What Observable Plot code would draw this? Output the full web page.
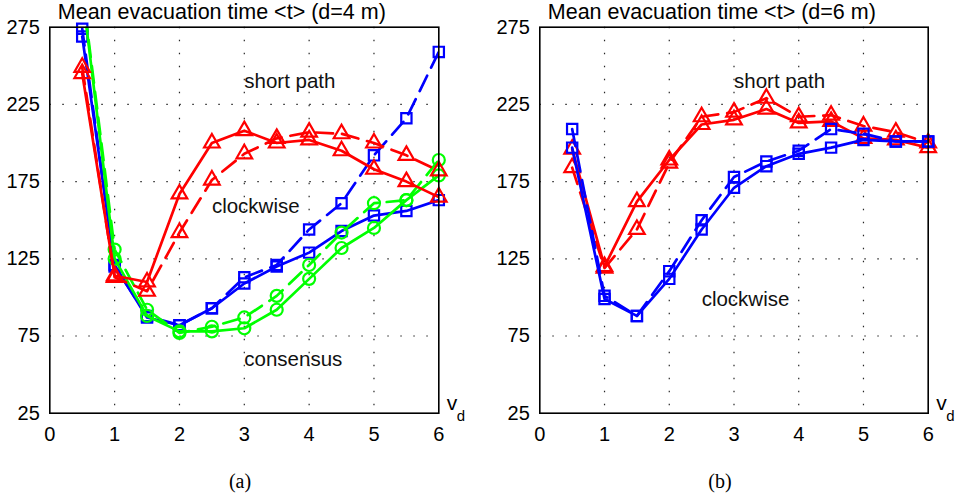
<!DOCTYPE html>
<html><head><meta charset="utf-8">
<script src="https://cdn.jsdelivr.net/npm/d3@7"></script>
<script src="https://cdn.jsdelivr.net/npm/@observablehq/plot@0.6"></script>
<style>
body{margin:0;background:#fff;width:960px;height:497px;overflow:hidden}
#row{display:flex}
.panel{width:480px}
.cap{font-family:"Liberation Serif","DejaVu Serif",serif;font-size:20px;text-align:center;line-height:20px;padding-top:16px;color:#000}
</style></head><body><div id="row"></div>
<script>
// x values (v_d)
const vd = [0.5, 1, 1.5, 2, 2.5, 3, 3.5, 4, 4.5, 5, 5.5, 6];
const xTicks = [0, 1, 2, 3, 4, 5, 6];
const yTicks = [25, 75, 125, 175, 225, 275];
const gridXVals = [1, 2, 3, 4, 5];
const gridYVals = [75, 125, 175, 225];

// panel (a): d = 4 m
const aShortSolid  = [245, 114, 110, 167, 200, 208, 200, 202, 195, 183, 175, 165];
const aShortDashed = [249, 113, 104, 142, 176, 193, 203, 207, 206, 200, 192, 182];
const aClockSolid  = [269, 121, 87, 82, 93, 109, 120, 129, 143, 153, 156, 163];
const aClockDashed = [274, 120, 88, 82, 93, 113, 121, 144, 161, 192, 216, 259];
const aConsSolid   = [298, 125, 88, 78, 78, 80, 92, 112, 132, 145, 163, 179];
const aConsDashed  = [300, 131, 92, 77, 81, 87, 101, 121, 142, 161, 163, 189];

// panel (b): d = 6 m
const bShortSolid  = [196, 120, 162, 189, 212, 215, 222, 213, 214, 203, 202, 197];
const bShortDashed = [184, 119, 144, 187, 217, 220, 229, 217, 218, 211, 207, 200];
const bClockSolid  = [197, 99, 88, 112, 144, 171, 185, 193, 197, 202, 201, 201];
const bClockDashed = [209, 101, 88, 117, 150, 178, 188, 195, 209, 206, 201, 201];

const titles = ["Mean evacuation time <t> (d=4 m)", "Mean evacuation time <t> (d=6 m)"];
const captions = ["(a)", "(b)"];
const annA = [
  {x: 3.0, y: 240, text: "short path"},
  {x: 2.5, y: 159, text: "clockwise"},
  {x: 3.0, y: 60, text: "consensus"}
];
const annB = [
  {x: 3.0, y: 240, text: "short path"},
  {x: 2.5, y: 99, text: "clockwise"}
];

const RED = "#ff0000", BLUE = "#0000ff", GREEN = "#00ff00";
const DASH = "17,9";

const seriesA = [
  {vals: aClockSolid, color: BLUE, dash: null, symbol: "square", r: 5.8},
  {vals: aClockDashed, color: BLUE, dash: DASH, symbol: "square", r: 5.8},
  {vals: aConsSolid, color: GREEN, dash: null, symbol: "circle", r: 6},
  {vals: aConsDashed, color: GREEN, dash: DASH, symbol: "circle", r: 6},
  {vals: aShortSolid, color: RED, dash: null, symbol: "triangle", r: 5.8},
  {vals: aShortDashed, color: RED, dash: DASH, symbol: "triangle", r: 5.8}
];
const seriesB = [
  {vals: bShortSolid, color: RED, dash: null, symbol: "triangle", r: 5.8},
  {vals: bShortDashed, color: RED, dash: DASH, symbol: "triangle", r: 5.8},
  {vals: bClockSolid, color: BLUE, dash: null, symbol: "square", r: 5.8},
  {vals: bClockDashed, color: BLUE, dash: DASH, symbol: "square", r: 5.8}
];

function panel(series, ann, title, marginLeft, marginRight) {
  const marks = [
    Plot.gridX(gridXVals, {stroke: "black", strokeOpacity: 0.85, strokeWidth: 1.2, strokeDasharray: "1.5,11.5"}),
    Plot.gridY(gridYVals, {stroke: "black", strokeOpacity: 0.85, strokeWidth: 1.2, strokeDasharray: "1.5,11.5"}),
    Plot.axisY({ticks: yTicks, tickSize: 0, tickPadding: 10, label: null, fontSize: 20, tickFormat: d3.format("d")}),
    Plot.axisX({ticks: xTicks, tickSize: 0, tickPadding: 14, label: null, fontSize: 20, tickFormat: d3.format("d")})
  ];
  for (const s of series) {
    const rows = vd.map((x, i) => ({x, y: s.vals[i]}));
    marks.push(Plot.line(rows, {x: "x", y: "y", stroke: s.color, strokeWidth: 2.7,
      strokeDasharray: s.dash, clip: true}));
    marks.push(Plot.dot(rows.filter(d => d.y <= 285), {x: "x", y: "y", symbol: s.symbol, r: s.r,
      stroke: s.color, strokeWidth: 2.2, fill: "none"}));
  }
  marks.push(
    Plot.frame({stroke: "black", strokeWidth: 1.6}),
    Plot.text(ann, {x: "x", y: "y", text: "text", textAnchor: "start", fontSize: 20.5, fill: "#111"}),
    Plot.text([title], {frameAnchor: "top-left", text: d => d, dx: 8, dy: -8, textAnchor: "start", lineAnchor: "bottom", fontSize: 21.5}),
    Plot.text(["v"], {frameAnchor: "bottom-right", text: d => d, dx: 8, dy: -3, textAnchor: "start", lineAnchor: "bottom", fontSize: 21}),
    Plot.text(["d"], {frameAnchor: "bottom-right", text: d => d, dx: 18, dy: 8, textAnchor: "start", lineAnchor: "bottom", fontSize: 15})
  );
  return Plot.plot({
    width: 480, height: 455,
    marginLeft, marginRight, marginTop: 26.7, marginBottom: 42.3,
    x: {domain: [0, 6]},
    y: {domain: [25, 275]},
    style: {fontFamily: "'Liberation Sans', Arial, sans-serif", fontSize: "20px", color: "black", background: "white", overflow: "visible"},
    marks
  });
}

const row = document.getElementById("row");
const specs = [
  {series: seriesA, ann: annA, ml: 49.3, mr: 41.7},
  {series: seriesB, ann: annB, ml: 59.3, mr: 32.3}
];
specs.forEach((sp, k) => {
  const div = document.createElement("div");
  div.className = "panel";
  div.appendChild(panel(sp.series, sp.ann, titles[k], sp.ml, sp.mr));
  const cap = document.createElement("div");
  cap.className = "cap";
  cap.textContent = captions[k];
  div.appendChild(cap);
  row.appendChild(div);
});
</script>
</body></html>
